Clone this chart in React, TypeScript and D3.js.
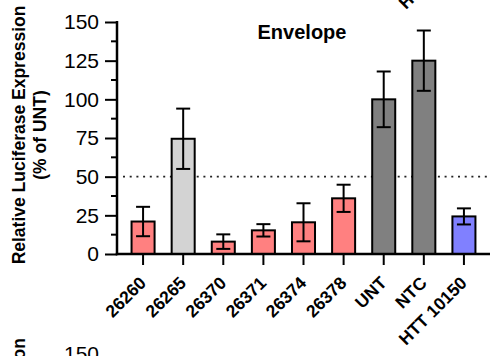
import React, { useRef, useEffect } from 'react';
import * as d3 from 'd3';

// values (% of UNT)
const categories = ['26260', '26265', '26370', '26371', '26374', '26378', 'UNT', 'NTC', 'HTT 10150'];
const means = [21, 74.5, 8, 15.3, 20.5, 36, 100, 125, 24.3];
const errors = [9.5, 19.5, 4.7, 4, 12.3, 8.8, 18, 19.5, 5.2];
const groups = ['test', 'ref', 'test', 'test', 'test', 'test', 'ctrl', 'ctrl', 'htt'];
const yTicks = [0, 25, 50, 75, 100, 125, 150];
const threshold = 50;

const groupColor: Record<string, string> = {
  test: '#FF8080',
  ref: '#D3D3D3',
  ctrl: '#808080',
  htt: '#8080FF',
};

const FONT = "'Liberation Sans', Arial, sans-serif";

const Chart = ({ width = 490, height = 356 }) => {
  const svgRef = useRef<SVGSVGElement>(null);

  useEffect(() => {
    const svg = d3.select(svgRef.current);
    svg.selectAll('*').remove();

    const left = 117;
    const y = d3.scaleLinear().domain([0, 150]).range([254, 22]);
    const x = d3
      .scaleBand()
      .domain(categories)
      .range([left, width])
      .paddingInner(0.376)
      .paddingOuter(0.338);
    const bw = x.bandwidth();
    const cx = (c: string) => (x(c) as number) + bw / 2;

    const g = svg.append('g').attr('font-family', FONT);

    // dotted reference line at 50%
    g.append('line')
      .attr('x1', left + 6)
      .attr('x2', width)
      .attr('y1', y(threshold))
      .attr('y2', y(threshold))
      .attr('stroke', '#222')
      .attr('stroke-width', 1.8)
      .attr('stroke-dasharray', '2,4.7');

    // bars
    g.selectAll('rect.bar')
      .data(categories)
      .enter()
      .append('rect')
      .attr('class', 'bar')
      .attr('x', (d) => (x(d) as number) + 1)
      .attr('width', bw - 2)
      .attr('y', (d, i) => y(means[i]))
      .attr('height', (d, i) => y(0) - y(means[i]))
      .attr('fill', (d, i) => groupColor[groups[i]])
      .attr('stroke', '#000')
      .attr('stroke-width', 2);

    // error bars
    const eb = g
      .selectAll('g.err')
      .data(categories)
      .enter()
      .append('g')
      .attr('class', 'err')
      .attr('stroke', '#000')
      .attr('stroke-width', 2);
    eb.append('line')
      .attr('x1', (d) => cx(d))
      .attr('x2', (d) => cx(d))
      .attr('y1', (d, i) => y(means[i] - errors[i]))
      .attr('y2', (d, i) => y(means[i] + errors[i]));
    [1, -1].forEach((s) => {
      eb.append('line')
        .attr('x1', (d) => cx(d) - 7)
        .attr('x2', (d) => cx(d) + 7)
        .attr('y1', (d, i) => y(means[i] + s * errors[i]))
        .attr('y2', (d, i) => y(means[i] + s * errors[i]));
    });

    // y axis
    const yAxis = g
      .append('g')
      .attr('transform', `translate(${left},0)`)
      .call(d3.axisLeft(y).tickValues(yTicks).tickSize(12).tickPadding(6).tickSizeOuter(0));
    yAxis.select('.domain').remove();
    yAxis.selectAll('.tick line').attr('stroke-width', 2);
    yAxis
      .selectAll('.tick text')
      .attr('font-family', FONT)
      .attr('font-size', 21)
      .attr('fill', '#000');
    // minor ticks
    g.selectAll('line.minor')
      .data(yTicks.slice(1).map((t) => t - 12.5))
      .enter()
      .append('line')
      .attr('class', 'minor')
      .attr('x1', left - 6)
      .attr('x2', left)
      .attr('y1', (d) => y(d))
      .attr('y2', (d) => y(d))
      .attr('stroke', '#000')
      .attr('stroke-width', 2);
    g.append('line')
      .attr('x1', left)
      .attr('x2', left)
      .attr('y1', y(0) + 1.25)
      .attr('y2', y(150) - 1)
      .attr('stroke', '#000')
      .attr('stroke-width', 2.5);

    // x axis
    const xAxis = g
      .append('g')
      .attr('transform', `translate(0,${y(0)})`)
      .call(d3.axisBottom(x).tickSize(11).tickSizeOuter(0).tickFormat(() => ''));
    xAxis.select('.domain').remove();
    xAxis.selectAll('.tick line').attr('stroke-width', 2);
    g.append('line')
      .attr('x1', left - 1.25)
      .attr('x2', width)
      .attr('y1', y(0))
      .attr('y2', y(0))
      .attr('stroke', '#000')
      .attr('stroke-width', 2.5);

    const xLabel = (sel: any, dy: number, dx: number) =>
      sel
        .attr('text-anchor', 'end')
        .attr('font-size', 17.5)
        .attr('font-weight', 'bold')
        .attr('transform', (d: string) => `translate(${cx(d) + 4 + dx},${y(0) + 30 + dy}) rotate(-45)`)
        .text((d: string) => d);

    g.selectAll('text.xl')
      .data(categories)
      .enter()
      .append('text')
      .attr('class', 'xl')
      .call(xLabel, 0, 0);

    // title
    g.append('text')
      .attr('x', 302)
      .attr('y', 39)
      .attr('text-anchor', 'middle')
      .attr('font-size', 20)
      .attr('font-weight', 'bold')
      .text('Envelope');

    // y axis title
    const yt = g
      .append('text')
      .attr('transform', 'translate(0,135) rotate(-90)')
      .attr('text-anchor', 'middle')
      .attr('font-size', 17.5)
      .attr('font-weight', 'bold');
    yt.append('tspan').attr('x', 0).attr('y', 25).text('Relative Luciferase Expression');
    yt.append('tspan').attr('x', 0).attr('y', 46).text('(% of UNT)');

    // pieces of the neighbouring panels that show at the edges
    g.selectAll('text.up')
      .data(categories.slice(-1))
      .enter()
      .append('text')
      .attr('class', 'up')
      .call(xLabel, -336, 0);
    g.append('text')
      .attr('x', left - 18)
      .attr('y', y(150) + 332)
      .attr('dy', '0.35em')
      .attr('text-anchor', 'end')
      .attr('font-size', 21)
      .text('150');
    g.append('text')
      .attr('transform', 'translate(25,338) rotate(-90)')
      .attr('text-anchor', 'end')
      .attr('font-size', 17.5)
      .attr('font-weight', 'bold')
      .text('Relative Luciferase Expression');
  }, [width, height]);

  return (
    <svg
      ref={svgRef}
      width={width}
      height={height}
      style={{ position: 'absolute', left: 0, top: 0, background: '#fff' }}
    ></svg>
  );
};

export default function App() {
  return <Chart />;
}
